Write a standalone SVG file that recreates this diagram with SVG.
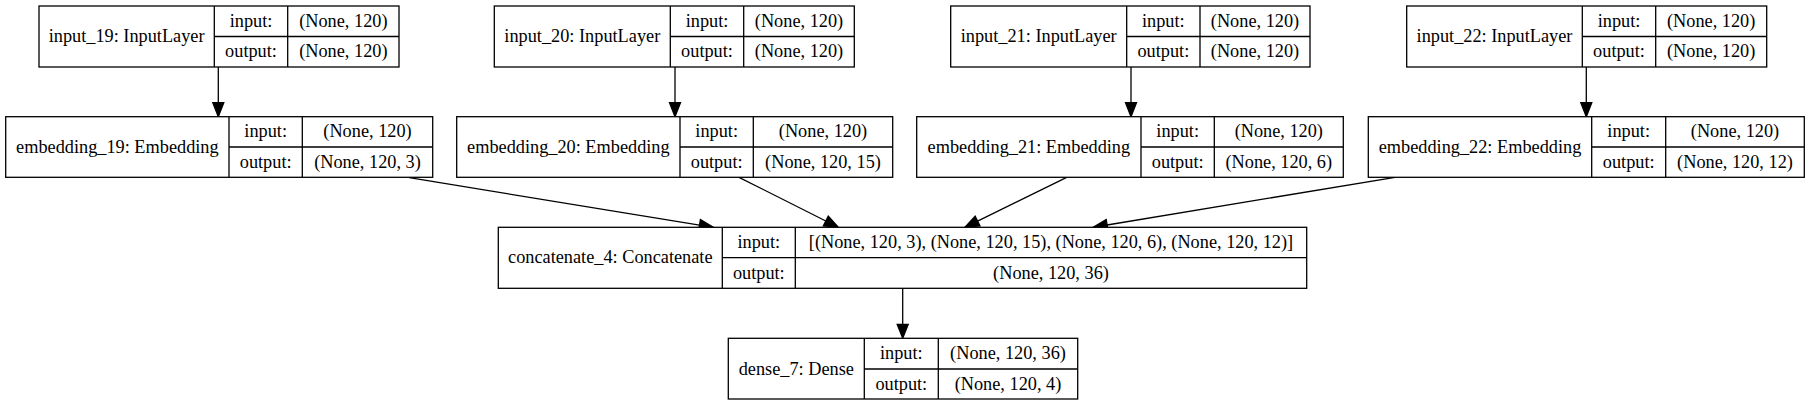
<svg xmlns="http://www.w3.org/2000/svg" width="1810" height="405" viewBox="0 0 1810 405">
<style>
rect{fill:#fff;stroke:#000;stroke-width:1.3}
.d{stroke:#000;stroke-width:1.3;fill:none}
text{font-family:"Liberation Serif","Times New Roman",serif;font-size:18.3px;fill:#000;text-anchor:middle}
.e{stroke:#000;stroke-width:1.3;fill:none}
.h{fill:#000;stroke:#000;stroke-width:1.3}
</style>
<rect x="0" y="0" width="1810" height="405" style="stroke:none"/>
<g id="connectors">
<line class="e" x1="218.3" y1="67" x2="218.3" y2="102.7"/><polygon class="h" points="212.8,102.7 223.8,102.7 218.3,116.7"/>
<line class="e" x1="675" y1="67" x2="675" y2="102.7"/><polygon class="h" points="669.5,102.7 680.5,102.7 675,116.7"/>
<line class="e" x1="1131" y1="67" x2="1131" y2="102.7"/><polygon class="h" points="1125.5,102.7 1136.5,102.7 1131,116.7"/>
<line class="e" x1="1586.3" y1="67" x2="1586.3" y2="102.7"/><polygon class="h" points="1580.8,102.7 1591.8,102.7 1586.3,116.7"/>
<line class="e" x1="409.3" y1="177.7" x2="699.5" y2="225.05"/><polygon class="h" points="700.4,219.6 698.6,230.5 713.3,227.3"/>
<line class="e" x1="739" y1="177.3" x2="825.8" y2="221"/><polygon class="h" points="828.3,216.1 823.3,225.9 838.3,227.3"/>
<line class="e" x1="1066.7" y1="177.3" x2="977.6" y2="221.1"/><polygon class="h" points="975.2,216.2 980,226 965,227.3"/>
<line class="e" x1="1395" y1="177.3" x2="1107.1" y2="225"/><polygon class="h" points="1106.2,219.6 1108,230.4 1093.3,227.3"/>
<line class="e" x1="902.7" y1="288.3" x2="902.7" y2="324.3"/><polygon class="h" points="897.2,324.3 908.2,324.3 902.7,338.3"/>
</g>
<g id="input_19">
<rect x="39" y="6" width="360" height="61"/>
<path class="d" d="M214.3,6V67M287.7,6V67M214.3,36.5H399"/>
<text x="126.65" y="42">input_19: InputLayer</text>
<text x="251" y="26.8">input:</text><text x="343.35" y="26.8">(None, 120)</text>
<text x="251" y="57.3">output:</text><text x="343.35" y="57.3">(None, 120)</text>
</g>
<g id="input_20">
<rect x="494.3" y="6" width="360" height="61"/>
<path class="d" d="M670.3,6V67M743.7,6V67M670.3,36.5H854.3"/>
<text x="582.3" y="42">input_20: InputLayer</text>
<text x="707" y="26.8">input:</text><text x="799" y="26.8">(None, 120)</text>
<text x="707" y="57.3">output:</text><text x="799" y="57.3">(None, 120)</text>
</g>
<g id="input_21">
<rect x="950.7" y="6" width="359.3" height="61"/>
<path class="d" d="M1126.7,6V67M1200,6V67M1126.7,36.5H1310"/>
<text x="1038.7" y="42">input_21: InputLayer</text>
<text x="1163.35" y="26.8">input:</text><text x="1255" y="26.8">(None, 120)</text>
<text x="1163.35" y="57.3">output:</text><text x="1255" y="57.3">(None, 120)</text>
</g>
<g id="input_22">
<rect x="1406.7" y="6" width="360" height="61"/>
<path class="d" d="M1582.3,6V67M1655.7,6V67M1582.3,36.5H1766.7"/>
<text x="1494.5" y="42">input_22: InputLayer</text>
<text x="1619" y="26.8">input:</text><text x="1711.2" y="26.8">(None, 120)</text>
<text x="1619" y="57.3">output:</text><text x="1711.2" y="57.3">(None, 120)</text>
</g>
<g id="embedding_19">
<rect x="5.7" y="116.7" width="427" height="60.6"/>
<path class="d" d="M229,116.7V177.3M302.3,116.7V177.3M229,147H432.7"/>
<text x="117.35" y="152.5">embedding_19: Embedding</text>
<text x="265.65" y="137.4">input:</text><text x="367.5" y="137.4">(None, 120)</text>
<text x="265.65" y="167.7">output:</text><text x="367.5" y="167.7">(None, 120, 3)</text>
</g>
<g id="embedding_20">
<rect x="456.7" y="116.7" width="436" height="60.6"/>
<path class="d" d="M680,116.7V177.3M753.3,116.7V177.3M680,147H892.7"/>
<text x="568.35" y="152.5">embedding_20: Embedding</text>
<text x="716.65" y="137.4">input:</text><text x="823" y="137.4">(None, 120)</text>
<text x="716.65" y="167.7">output:</text><text x="823" y="167.7">(None, 120, 15)</text>
</g>
<g id="embedding_21">
<rect x="916.7" y="116.7" width="426.6" height="60.6"/>
<path class="d" d="M1141,116.7V177.3M1214.3,116.7V177.3M1141,147H1343.3"/>
<text x="1028.85" y="152.5">embedding_21: Embedding</text>
<text x="1177.65" y="137.4">input:</text><text x="1278.8" y="137.4">(None, 120)</text>
<text x="1177.65" y="167.7">output:</text><text x="1278.8" y="167.7">(None, 120, 6)</text>
</g>
<g id="embedding_22">
<rect x="1368.3" y="116.7" width="436" height="60.6"/>
<path class="d" d="M1591.7,116.7V177.3M1665.7,116.7V177.3M1591.7,147H1804.3"/>
<text x="1480" y="152.5">embedding_22: Embedding</text>
<text x="1628.7" y="137.4">input:</text><text x="1735" y="137.4">(None, 120)</text>
<text x="1628.7" y="167.7">output:</text><text x="1735" y="167.7">(None, 120, 12)</text>
</g>
<g id="concatenate_4">
<rect x="498.3" y="227.3" width="808.4" height="61"/>
<path class="d" d="M722.3,227.3V288.3M795.3,227.3V288.3M722.3,257.7H1306.7"/>
<text x="610.3" y="263.2">concatenate_4: Concatenate</text>
<text x="758.8" y="248">input:</text><text x="1051" y="248">[(None, 120, 3), (None, 120, 15), (None, 120, 6), (None, 120, 12)]</text>
<text x="758.8" y="278.5">output:</text><text x="1051" y="278.5">(None, 120, 36)</text>
</g>
<g id="dense_7">
<rect x="728.3" y="338.3" width="349.4" height="60.7"/>
<path class="d" d="M864.3,338.3V399M938.3,338.3V399M864.3,369H1077.7"/>
<text x="796.3" y="374.5">dense_7: Dense</text>
<text x="901.3" y="359.2">input:</text><text x="1008" y="359.2">(None, 120, 36)</text>
<text x="901.3" y="389.5">output:</text><text x="1008" y="389.5">(None, 120, 4)</text>
</g>
</svg>
